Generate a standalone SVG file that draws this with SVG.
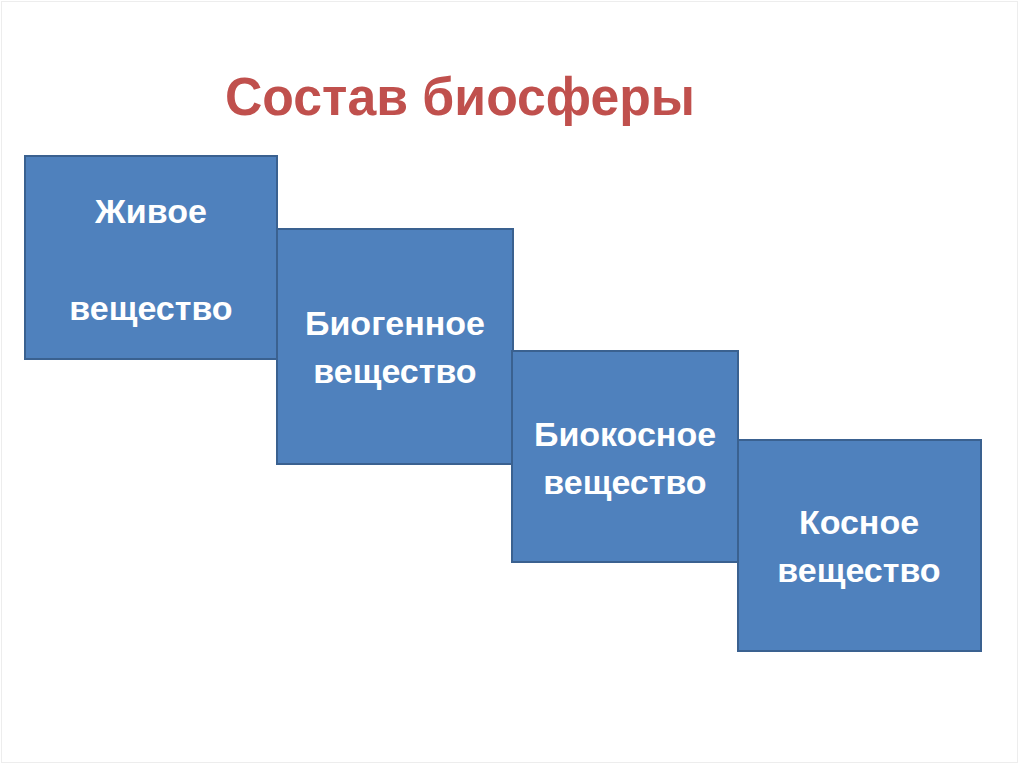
<svg xmlns="http://www.w3.org/2000/svg" width="1024" height="767" viewBox="0 0 1024 767">
  <style>
    .box { fill: #4F81BD; stroke: #3A6190; stroke-width: 2; }
    .lbl { font-family: "Liberation Sans", Arial, sans-serif; font-weight: bold; font-size: 34px; fill: #FFFFFF; text-anchor: middle; }
    .title { font-family: "Liberation Sans", Arial, sans-serif; font-weight: bold; font-size: 54px; fill: #C0504D; text-anchor: middle; }
  </style>
  <rect x="0" y="0" width="1024" height="767" fill="#FFFFFF"/>
  <rect x="1.5" y="1.5" width="1016" height="761" fill="none" stroke="#EDEDED" stroke-width="1"/>
  <text class="title" x="460" y="115" textLength="470" lengthAdjust="spacingAndGlyphs">Состав биосферы</text>
  <g id="connectors"></g>
  <g id="node-zhivoe">
    <rect class="box" x="25" y="156" width="252" height="203"/>
    <text class="lbl" x="151" y="223">Живое</text>
    <text class="lbl" x="151" y="320">вещество</text>
  </g>
  <g id="node-biogennoe">
    <rect class="box" x="277" y="229" width="236" height="235"/>
    <text class="lbl" x="395" y="335">Биогенное</text>
    <text class="lbl" x="395" y="383">вещество</text>
  </g>
  <g id="node-biokosnoe">
    <rect class="box" x="512" y="351" width="226" height="211"/>
    <text class="lbl" x="625" y="446">Биокосное</text>
    <text class="lbl" x="625" y="494">вещество</text>
  </g>
  <g id="node-kosnoe">
    <rect class="box" x="738" y="440" width="243" height="211"/>
    <text class="lbl" x="859" y="534">Косное</text>
    <text class="lbl" x="859" y="582">вещество</text>
  </g>
</svg>
